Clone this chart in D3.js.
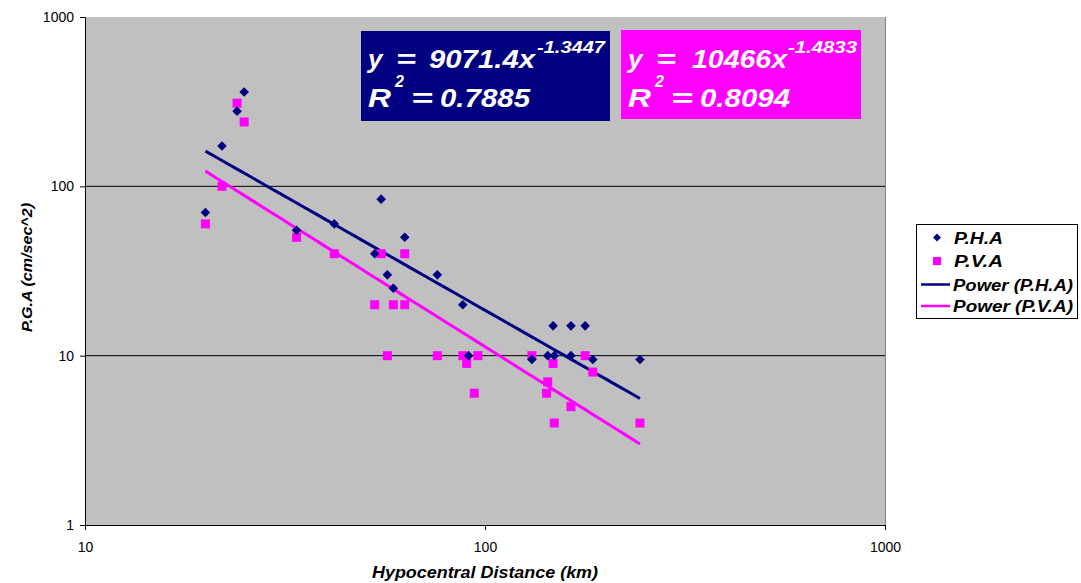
<!DOCTYPE html>
<html>
<head>
<meta charset="utf-8">
<script src="https://cdn.jsdelivr.net/npm/d3@7/dist/d3.min.js"></script>
<style>
  html, body { margin: 0; padding: 0; background: #fff; }
  svg { display: block; font-family: "Liberation Sans", Arial, sans-serif; }
</style>
</head>
<body>
<svg id="chart" width="1081" height="583"></svg>
<script>
// Peak ground acceleration vs hypocentral distance
const phaDistance = [20, 22, 24, 25, 33.8, 42, 55, 53, 63, 57, 59, 76, 88, 91, 148, 164, 178, 131, 143.5, 149, 164, 186, 244];
const phaValue    = [70, 173, 278, 361, 55, 60, 84, 40, 50, 30, 25, 30, 20, 10, 15, 15, 15, 9.5, 10, 10, 10, 9.5, 9.5];

const pvaDistance = [20, 22, 24, 25, 33.8, 42, 55, 63, 53, 59, 63, 57, 76, 88, 90, 96, 94, 131, 148, 143.5, 142.5, 149, 164, 178, 186, 244];
const pvaValue    = [60, 100, 310, 240, 50, 40, 40, 40, 20, 20, 20, 10, 10, 10, 9, 10, 6, 10, 9, 7, 6, 4, 5, 10, 8, 4];

// Power-law fits y = a * x^b
const fitPHA = { a: 9071.4, b: -1.3447, r2: 0.7885 };
const fitPVA = { a: 10466, b: -1.4833, r2: 0.8094 };

const xTicks = [10, 100, 1000];
const yTicks = [1, 10, 100, 1000];
const seriesNames = ["P.H.A", "P.V.A", "Power (P.H.A)", "Power (P.V.A)"];

const navy = "#000080", magenta = "#FF00FF";

const svg = d3.select("#chart");
const x = d3.scaleLog().domain([10, 1000]).range([85, 885]);
const y = d3.scaleLog().domain([1, 1000]).range([525, 17]);

// Plot area
svg.append("rect").attr("x", 85).attr("y", 17).attr("width", 800).attr("height", 508).attr("fill", "#C0C0C0");
svg.append("line").attr("x1", 885.5).attr("x2", 885.5).attr("y1", 17).attr("y2", 525).attr("stroke", "#808080").attr("stroke-width", 1);

// Horizontal gridlines
svg.append("g").selectAll("line").data([10, 100]).join("line")
  .attr("x1", 85).attr("x2", 885)
  .attr("y1", d => y(d)).attr("y2", d => y(d))
  .attr("stroke", "#000").attr("stroke-width", 1);

// Axes
const yAxis = d3.axisLeft(y).tickValues(yTicks).tickFormat(d3.format("d")).tickSize(5).tickPadding(6);
const xAxis = d3.axisBottom(x).tickValues(xTicks).tickFormat(d3.format("d")).tickSize(5).tickPadding(12);
const gy = svg.append("g").attr("transform", "translate(85,0)").call(yAxis);
const gx = svg.append("g").attr("transform", "translate(0,525)").call(xAxis);
[gx, gy].forEach(g => {
  g.select(".domain").attr("stroke", "#000");
  g.selectAll(".tick line").attr("stroke", "#000");
  g.selectAll("text").attr("font-size", 14).attr("fill", "#000")
    .attr("font-family", "Liberation Sans, Arial, sans-serif");
});

// Trend lines over the data range
function fitLine(fit, xs) {
  const lo = d3.min(xs), hi = d3.max(xs);
  return d3.range(0, 41).map(i => {
    const xv = lo * Math.pow(hi / lo, i / 40);
    return [xv, fit.a * Math.pow(xv, fit.b)];
  });
}
const line = d3.line().x(d => x(d[0])).y(d => y(d[1]));
svg.append("path").datum(fitLine(fitPHA, phaDistance)).attr("d", line)
  .attr("fill", "none").attr("stroke", navy).attr("stroke-width", 3);
svg.append("path").datum(fitLine(fitPVA, pvaDistance)).attr("d", line)
  .attr("fill", "none").attr("stroke", magenta).attr("stroke-width", 3);

// Markers
const diamond = "M0,-4.8L4.8,0L0,4.8L-4.8,0Z";
const square = "M-4.5,-4.5H4.5V4.5H-4.5Z";
svg.append("g").selectAll("path").data(pvaDistance.map((d, i) => [d, pvaValue[i]])).join("path")
  .attr("d", square).attr("fill", magenta)
  .attr("transform", d => `translate(${x(d[0])},${y(d[1])})`);
svg.append("g").selectAll("path").data(phaDistance.map((d, i) => [d, phaValue[i]])).join("path")
  .attr("d", diamond).attr("fill", navy)
  .attr("transform", d => `translate(${x(d[0])},${y(d[1])})`);

// Text helper: bold italic, optionally stretched to a given width
function label(parent, tx, ty, str, size, opts = {}) {
  const t = parent.append("text").attr("x", tx).attr("y", ty)
    .attr("font-size", size).attr("font-weight", "bold").attr("font-style", "italic")
    .attr("fill", opts.fill || "#000").text(str);
  if (opts.width) t.attr("textLength", opts.width).attr("lengthAdjust", "spacingAndGlyphs");
  if (opts.anchor) t.attr("text-anchor", opts.anchor);
  return t;
}

// Equation boxes
function eqBox(box, fit, aText, pos) {
  const g = svg.append("g");
  g.append("rect").attr("x", box[0]).attr("y", box[1]).attr("width", box[2]).attr("height", box[3]).attr("fill", box[4]);
  const w = { fill: "#fff" };
  label(g, pos.y, 68, "y", 26, w);
  label(g, pos.eq1, 68, "=", 26, { fill: "#fff", width: 20 });
  label(g, pos.num, 68, `${aText}x`, 26, { fill: "#fff", width: pos.numW });
  label(g, pos.exp, 53, fit.b.toFixed(4), 16, { fill: "#fff", width: pos.expW });
  label(g, pos.y, 107, "R", 26, { fill: "#fff", width: 23 });
  label(g, pos.sq, 87, "2", 16, w);
  label(g, pos.eq2, 107, "=", 26, { fill: "#fff", width: 22 });
  label(g, pos.r2, 107, fit.r2.toFixed(4), 26, { fill: "#fff", width: 90 });
}
eqBox([361, 31, 249, 90, navy], fitPHA, "9071.4",
  { y: 368, eq1: 396, num: 429, numW: 106, exp: 537, expW: 68, sq: 395, eq2: 411, r2: 440 });
eqBox([621, 30, 240, 89, magenta], fitPVA, "10466",
  { y: 628, eq1: 656, num: 692, numW: 95, exp: 788, expW: 69, sq: 655, eq2: 671, r2: 700 });

// Legend
const lg = svg.append("g");
lg.append("rect").attr("x", 916.5).attr("y", 224.5).attr("width", 161).attr("height", 94)
  .attr("fill", "#fff").attr("stroke", "#000").attr("stroke-width", 1);
const rowsY = [237.5, 261, 284.5, 306];
const legendWidths = [49, 49, 120, 120];
seriesNames.forEach((name, i) => {
  const yy = rowsY[i];
  if (i === 0) lg.append("path").attr("d", "M0,-4L4,0L0,4L-4,0Z").attr("fill", navy).attr("transform", `translate(937,${yy})`);
  if (i === 1) lg.append("path").attr("d", "M-4,-4H4V4H-4Z").attr("fill", magenta).attr("transform", `translate(937,${yy})`);
  if (i === 2) lg.append("line").attr("x1", 921).attr("x2", 950).attr("y1", yy).attr("y2", yy).attr("stroke", navy).attr("stroke-width", 2.5);
  if (i === 3) lg.append("line").attr("x1", 921).attr("x2", 950).attr("y1", yy).attr("y2", yy).attr("stroke", magenta).attr("stroke-width", 2.5);
  label(lg, i < 2 ? 954 : 953, yy + 6, name, 16, { width: legendWidths[i] });
});

// Axis titles
label(svg, 372, 578, "Hypocentral Distance (km)", 16, { width: 226 });
label(svg.append("g").attr("transform", "translate(32,332) rotate(-90)"), 0, 0, "P.G.A (cm/sec^2)", 15, { width: 129 });
</script>
</body>
</html>
